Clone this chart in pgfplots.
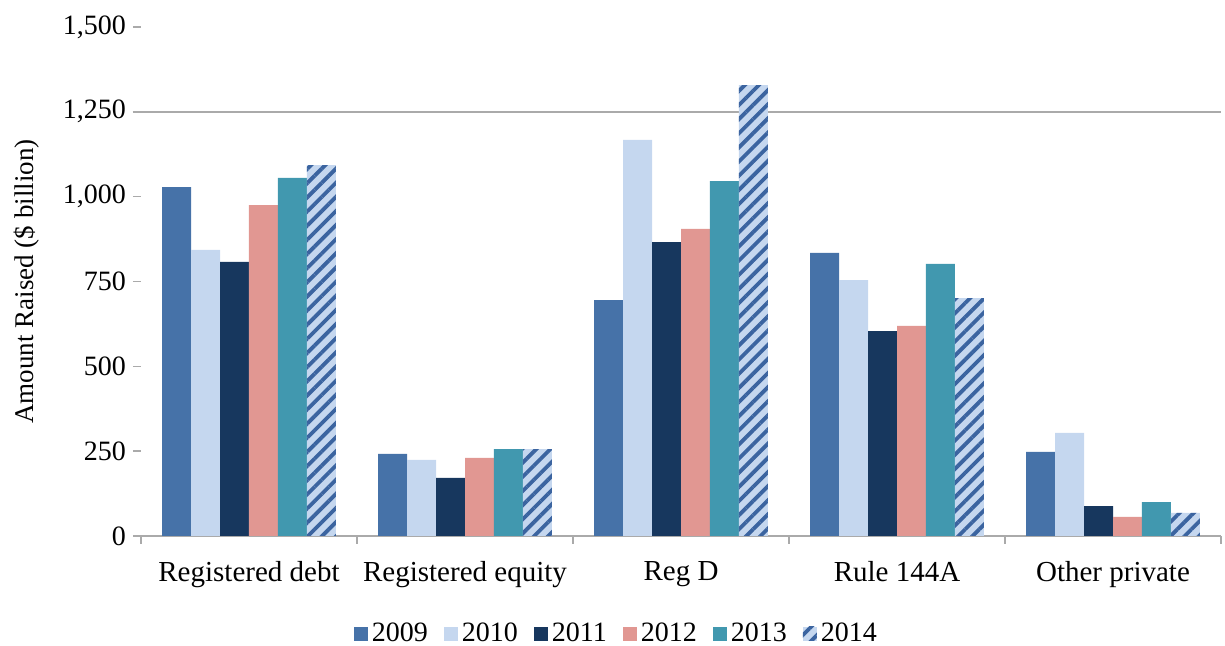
\documentclass[border=0pt]{standalone}
\usepackage{pgfplots}
\pgfplotsset{compat=1.18}
\usepackage{fontspec}
\setmainfont{Liberation Serif}
\usetikzlibrary{patterns.meta}
\definecolor{c2009}{RGB}{70,114,168}
\definecolor{c2010}{RGB}{197,215,239}
\definecolor{c2011}{RGB}{23,55,94}
\definecolor{c2012}{RGB}{225,151,146}
\definecolor{c2013}{RGB}{65,152,175}
\definecolor{hatch}{RGB}{59,100,160}
\definecolor{axgray}{RGB}{170,170,170}
\begin{document}
\begin{tikzpicture}
\path[use as bounding box] (-70.5pt,-55pt) rectangle (542pt,268pt);
\begin{axis}[
  scale only axis,
  width=540pt, height=254.5pt,
  ybar=0pt, bar width=0.134,
  xmin=-0.5, xmax=4.5,
  ymin=0, ymax=1500,
  xtick={-0.5,0.5,1.5,2.5,3.5,4.5},
  xticklabels={},
  x tick style={draw=axgray, line width=0.8pt},
  extra x ticks={0,1,2,3,4},
  extra x tick labels={Registered debt,Registered equity,Reg D,Rule 144A,Other private},
  extra x tick style={major tick length=0pt, xticklabel style={font=\fontsize{14.5}{17}\selectfont, yshift=-9pt}},
  ytick={0,250,500,750,1000,1250,1500},
  yticklabels={0,250,500,750,{1,000},{1,250},{1,500}},
  y tick style={draw=axgray, line width=0.8pt},
  major tick length=4pt,
  tick align=outside,
  axis x line*=bottom,
  axis y line*=left,
  y axis line style={draw=none},
  x axis line style={draw=axgray, line width=1pt},
  extra y ticks={1250},
  extra y tick labels={},
  extra y tick style={grid=major, major grid style={draw=axgray, line width=1pt}},
  ticklabel style={font=\fontsize{14}{16}\selectfont},
  ylabel={Amount Raised (\$ billion)},
  ylabel style={font=\fontsize{13.5}{16}\selectfont},
  ylabel shift=-3pt,
  legend columns=6,
  legend style={draw=none, at={(rel axis cs:0.441,-0.1925)}, anchor=center,
    font=\fontsize{14}{16}\selectfont,
    /tikz/every even column/.append style={column sep=6pt}},
  legend image code/.code={\draw[#1,draw=none] (0pt,-3.5pt) rectangle (7pt,3.5pt);},
  every axis plot/.append style={draw=none},
]
\addplot[fill=c2009] coordinates {(0,1028) (1,242) (2,695) (3,834) (4,248)};
\addplot[fill=c2010] coordinates {(0,843) (1,224) (2,1167) (3,754) (4,304)};
\addplot[fill=c2011] coordinates {(0,808) (1,171) (2,866) (3,604) (4,88)};
\addplot[fill=c2012] coordinates {(0,975) (1,230) (2,905) (3,619) (4,56)};
\addplot[fill=c2013] coordinates {(0,1055) (1,256) (2,1046) (3,802) (4,100)};
\addplot[fill=c2010, postaction={pattern={Lines[angle=45,distance=5pt,line width=1.9pt]}, pattern color=hatch}] coordinates {(0,1093) (1,256) (2,1329) (3,701) (4,68)};
\legend{2009,2010,2011,2012,2013,2014}
\end{axis}
\end{tikzpicture}
\end{document}
